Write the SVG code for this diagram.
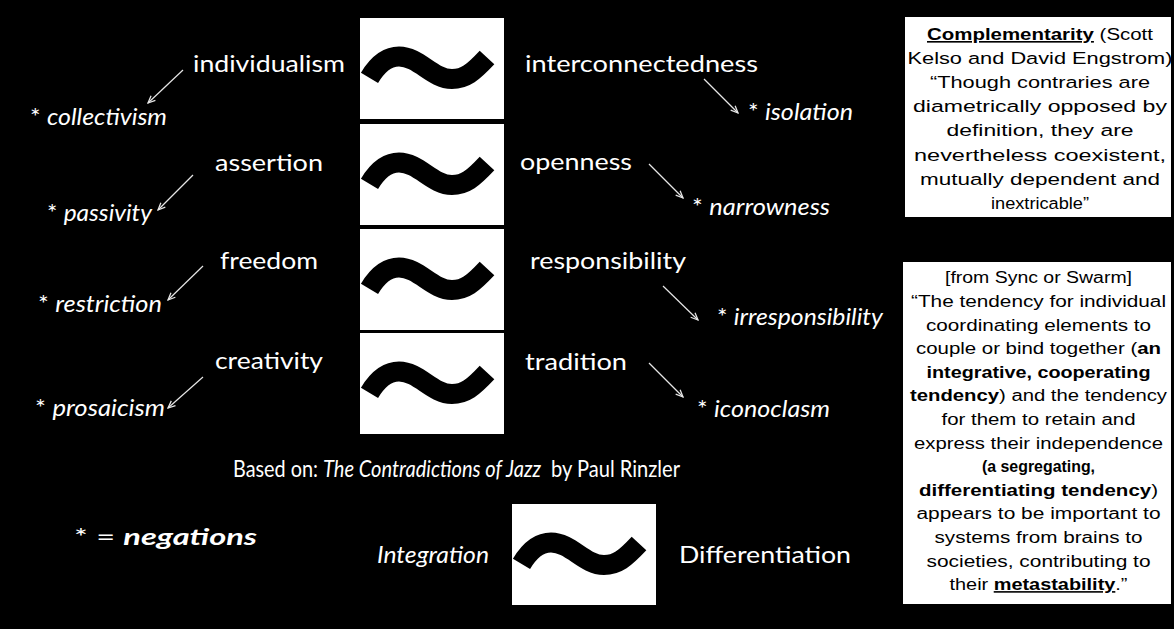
<svg xmlns="http://www.w3.org/2000/svg" xmlns:xlink="http://www.w3.org/1999/xlink" width="1174" height="629" viewBox="0 0 1174 629">
  <style>
    .w { font-family: Lato, "Open Sans", "Noto Sans", sans-serif; fill: #fff; font-size: 23px; }
    .it { font-style: italic; }
    .bi { font-style: italic; font-weight: bold; }
    .q { font-family: "Liberation Sans", Arial, sans-serif; fill: #000; text-anchor: middle; }
    .b { font-weight: bold; }
    .u { text-decoration: underline; }
    .tbox { fill: #fff; }
    .tilde { fill: none; stroke: #000; stroke-width: 20; stroke-linecap: butt; }
    .arrow { stroke: #e6e6e6; stroke-width: 1.2; fill: none; marker-end: url(#head); }
  </style>
  <defs>
    <marker id="head" viewBox="0 0 10 10" refX="9" refY="5" markerWidth="9" markerHeight="9" markerUnits="userSpaceOnUse" orient="auto">
      <path d="M1,1.5 L9,5 L1,8.5" fill="none" stroke="#e6e6e6" stroke-width="1.4"/>
    </marker>
    <!-- tilde glyph inside a 144x101 white tile -->
    <g id="tile">
      <rect class="tbox" x="0" y="0" width="144" height="101"/>
      <path class="tilde" d="M9.5,59.8 C16,49 26,38.5 39,38.5 C59,38.5 72,61 92,61 C105,61 113,54.5 127,39.5"/>
    </g>
  </defs>

  <rect x="0" y="0" width="1174" height="629" fill="#000"/>

  <!-- tilde tiles -->
  <g id="tile-1"><use xlink:href="#tile" x="360" y="18"/></g>
  <g id="tile-2"><use xlink:href="#tile" x="360" y="124"/></g>
  <g id="tile-3"><use xlink:href="#tile" x="360" y="229"/></g>
  <g id="tile-4"><use xlink:href="#tile" x="360" y="333"/></g>
  <g id="tile-5"><use xlink:href="#tile" x="512" y="504"/></g>

  <!-- poles: left column -->
  <g id="individualism"><text class="w" x="193" y="72" textLength="152" lengthAdjust="spacingAndGlyphs">individualism</text></g>
  <g id="assertion"><text class="w" x="215" y="170.5" textLength="108" lengthAdjust="spacingAndGlyphs">assertion</text></g>
  <g id="freedom"><text class="w" x="220" y="269" textLength="98" lengthAdjust="spacingAndGlyphs">freedom</text></g>
  <g id="creativity"><text class="w" x="215" y="369" textLength="108" lengthAdjust="spacingAndGlyphs">creativity</text></g>

  <!-- poles: right column -->
  <g id="interconnectedness"><text class="w" x="525" y="72" textLength="233" lengthAdjust="spacingAndGlyphs">interconnectedness</text></g>
  <g id="openness"><text class="w" x="520" y="170" textLength="112" lengthAdjust="spacingAndGlyphs">openness</text></g>
  <g id="responsibility"><text class="w" x="530" y="269" textLength="156" lengthAdjust="spacingAndGlyphs">responsibility</text></g>
  <g id="tradition"><text class="w" x="525" y="370" textLength="102" lengthAdjust="spacingAndGlyphs">tradition</text></g>

  <!-- negations -->
  <g id="collectivism"><text class="w" x="30" y="125" textLength="137" lengthAdjust="spacingAndGlyphs">* <tspan class="it">collectivism</tspan></text></g>
  <g id="passivity"><text class="w" x="47" y="220.5" textLength="105" lengthAdjust="spacingAndGlyphs">* <tspan class="it">passivity</tspan></text></g>
  <g id="restriction"><text class="w" x="38" y="312" textLength="124" lengthAdjust="spacingAndGlyphs">* <tspan class="it">restriction</tspan></text></g>
  <g id="prosaicism"><text class="w" x="35" y="416" textLength="130" lengthAdjust="spacingAndGlyphs">* <tspan class="it">prosaicism</tspan></text></g>
  <g id="isolation"><text class="w" x="748" y="120" textLength="105" lengthAdjust="spacingAndGlyphs">* <tspan class="it">isolation</tspan></text></g>
  <g id="narrowness"><text class="w" x="692" y="215" textLength="138" lengthAdjust="spacingAndGlyphs">* <tspan class="it">narrowness</tspan></text></g>
  <g id="irresponsibility"><text class="w" x="717" y="325" textLength="166" lengthAdjust="spacingAndGlyphs">* <tspan class="it">irresponsibility</tspan></text></g>
  <g id="iconoclasm"><text class="w" x="697" y="416.5" textLength="133" lengthAdjust="spacingAndGlyphs">* <tspan class="it">iconoclasm</tspan></text></g>

  <!-- connectors -->
  <g id="connectors">
    <line class="arrow" x1="183" y1="70" x2="148" y2="103"/>
    <line class="arrow" x1="193" y1="175" x2="158" y2="210"/>
    <line class="arrow" x1="203" y1="266" x2="168" y2="300"/>
    <line class="arrow" x1="203" y1="377" x2="168" y2="408"/>
    <line class="arrow" x1="704" y1="79" x2="738" y2="113"/>
    <line class="arrow" x1="649" y1="164" x2="683" y2="198"/>
    <line class="arrow" x1="663" y1="286" x2="698" y2="320"/>
    <line class="arrow" x1="649" y1="363" x2="683" y2="397"/>
  </g>

  <!-- source line -->
  <g id="source" font-size="19">
    <text class="w" x="233" y="477" font-size="19" textLength="85" lengthAdjust="spacingAndGlyphs">Based on:</text>
    <text class="w it" x="323" y="477" font-size="19" textLength="218" lengthAdjust="spacingAndGlyphs">The Contradictions of Jazz</text>
    <text class="w" x="551" y="477" font-size="19" textLength="129" lengthAdjust="spacingAndGlyphs">by Paul Rinzler</text>
  </g>

  <!-- legend and bottom pair -->
  <g id="legend"><text class="w" x="74" y="545" font-size="24" textLength="183" lengthAdjust="spacingAndGlyphs">* = <tspan class="bi">negations</tspan></text></g>
  <g id="integration"><text class="w it" x="377" y="563" font-size="27" textLength="112" lengthAdjust="spacingAndGlyphs">Integration</text></g>
  <g id="differentiation"><text class="w" x="679" y="563" font-size="27" textLength="172" lengthAdjust="spacingAndGlyphs">Differentiation</text></g>

  <!-- quote box: complementarity -->
  <g id="quote-complementarity" font-size="16.3">
    <rect x="905" y="17" width="266" height="200" fill="#fff"/>
    <text class="q" x="1040" y="40" textLength="226" lengthAdjust="spacingAndGlyphs"><tspan class="b u">Complementarity</tspan> (Scott</text>
    <text class="q" x="1040" y="64.1" textLength="265" lengthAdjust="spacingAndGlyphs">Kelso and David Engstrom)</text>
    <text class="q" x="1040" y="88.2" textLength="220" lengthAdjust="spacingAndGlyphs">“Though contraries are</text>
    <text class="q" x="1040" y="112.3" textLength="254" lengthAdjust="spacingAndGlyphs">diametrically opposed by</text>
    <text class="q" x="1040" y="136.4" textLength="187" lengthAdjust="spacingAndGlyphs">definition, they are</text>
    <text class="q" x="1040" y="160.5" textLength="252" lengthAdjust="spacingAndGlyphs">nevertheless coexistent,</text>
    <text class="q" x="1040" y="184.6" textLength="240" lengthAdjust="spacingAndGlyphs">mutually dependent and</text>
    <text class="q" x="1040" y="208.7" textLength="98" lengthAdjust="spacingAndGlyphs">inextricable”</text>
  </g>

  <!-- quote box: sync or swarm -->
  <g id="quote-sync" font-size="16">
    <rect x="903" y="262" width="268" height="342" fill="#fff"/>
    <text class="q" x="1038.5" y="283.3" textLength="187" lengthAdjust="spacingAndGlyphs">[from Sync or Swarm]</text>
    <text class="q" x="1038.5" y="306.9" textLength="255" lengthAdjust="spacingAndGlyphs">“The tendency for individual</text>
    <text class="q" x="1038.5" y="330.5" textLength="225" lengthAdjust="spacingAndGlyphs">coordinating elements to</text>
    <text class="q" x="1038.5" y="354.1" textLength="245" lengthAdjust="spacingAndGlyphs">couple or bind together (<tspan class="b">an</tspan></text>
    <text class="q b" x="1038.5" y="377.7" textLength="224" lengthAdjust="spacingAndGlyphs">integrative, cooperating</text>
    <text class="q" x="1038.5" y="401.3" textLength="257" lengthAdjust="spacingAndGlyphs"><tspan class="b">tendency</tspan>) and the tendency</text>
    <text class="q" x="1038.5" y="424.9" textLength="194" lengthAdjust="spacingAndGlyphs">for them to retain and</text>
    <text class="q" x="1038.5" y="448.5" textLength="249" lengthAdjust="spacingAndGlyphs">express their independence</text>
    <text class="q b" x="1038.5" y="472.1" textLength="113" lengthAdjust="spacingAndGlyphs">(a segregating,</text>
    <text class="q" x="1038.5" y="495.7" textLength="239" lengthAdjust="spacingAndGlyphs"><tspan class="b">differentiating tendency</tspan>)</text>
    <text class="q" x="1038.5" y="519.3" textLength="244" lengthAdjust="spacingAndGlyphs">appears to be important to</text>
    <text class="q" x="1038.5" y="542.9" textLength="208" lengthAdjust="spacingAndGlyphs">systems from brains to</text>
    <text class="q" x="1038.5" y="566.5" textLength="224" lengthAdjust="spacingAndGlyphs">societies, contributing to</text>
    <text class="q" x="1038.5" y="590.1" textLength="178" lengthAdjust="spacingAndGlyphs">their <tspan class="b u">metastability</tspan>.”</text>
  </g>
</svg>
